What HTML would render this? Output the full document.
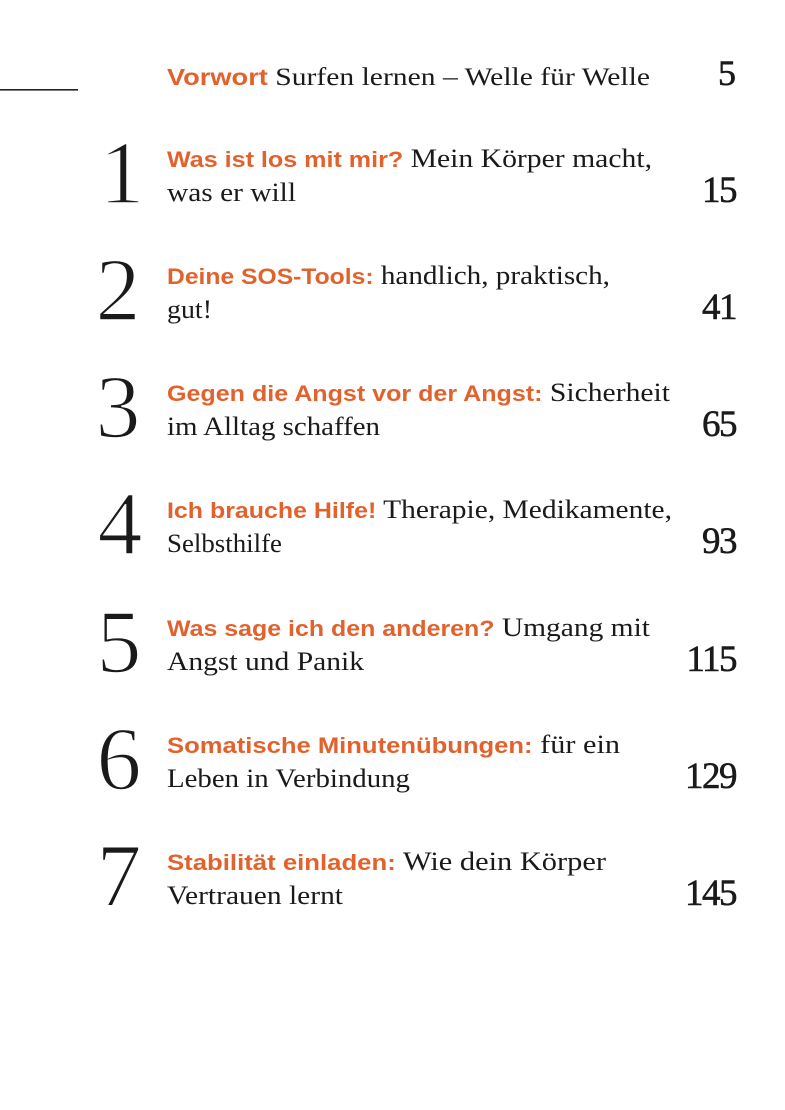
<!DOCTYPE html>
<html><head><meta charset="utf-8"><style>
html,body{margin:0;padding:0;background:#fff;width:785px;height:1110px;overflow:hidden}
svg{display:block}
.o{font-family:"Liberation Sans",sans-serif;font-weight:bold;fill:#e2622d}
.s{font-family:"Liberation Serif",serif;fill:#1a1a1a}
</style></head><body>
<svg width="785" height="1110" viewBox="0 0 785 1110" xmlns="http://www.w3.org/2000/svg">
<rect x="0" y="89" width="78" height="1.6" fill="#222"/>
<text x="167" y="85" font-size="25" textLength="483" lengthAdjust="spacingAndGlyphs"><tspan class="o" font-size="23">Vorwort</tspan><tspan class="s"> Surfen lernen – Welle für Welle</tspan></text>
<text class="s" x="736" y="85" font-size="36" text-anchor="end" stroke="#1a1a1a" stroke-width="0.6">5</text>

<g class="s" font-size="90" text-anchor="middle" stroke="#fff" stroke-width="1.6" paint-order="normal">
<text x="122" y="203">1</text>
<text x="118" y="320">2</text>
<text x="118" y="437">3</text>
<text x="120" y="554">4</text>
<text x="119" y="672">5</text>
<text x="119" y="789">6</text>
<text x="119" y="906">7</text>
</g>

<g font-size="26">
<text x="167" y="167" textLength="485" lengthAdjust="spacingAndGlyphs"><tspan class="o" font-size="22">Was ist los mit mir?</tspan><tspan class="s"> Mein Körper macht,</tspan></text>
<text class="s" x="167" y="201" textLength="129" lengthAdjust="spacingAndGlyphs">was er will</text>

<text x="167" y="284" textLength="443" lengthAdjust="spacingAndGlyphs"><tspan class="o" font-size="22">Deine SOS-Tools:</tspan><tspan class="s"> handlich, praktisch,</tspan></text>
<text class="s" x="167" y="318" textLength="45" lengthAdjust="spacingAndGlyphs">gut!</text>

<text x="167" y="401" textLength="503" lengthAdjust="spacingAndGlyphs"><tspan class="o" font-size="22">Gegen die Angst vor der Angst:</tspan><tspan class="s"> Sicherheit</tspan></text>
<text class="s" x="167" y="435" textLength="213" lengthAdjust="spacingAndGlyphs">im Alltag schaffen</text>

<text x="167" y="518" textLength="505" lengthAdjust="spacingAndGlyphs"><tspan class="o" font-size="22">Ich brauche Hilfe!</tspan><tspan class="s"> Therapie, Medikamente,</tspan></text>
<text class="s" x="167" y="552" textLength="115" lengthAdjust="spacingAndGlyphs">Selbsthilfe</text>

<text x="167" y="636" textLength="483" lengthAdjust="spacingAndGlyphs"><tspan class="o" font-size="22">Was sage ich den anderen?</tspan><tspan class="s"> Umgang mit</tspan></text>
<text class="s" x="167" y="670" textLength="197" lengthAdjust="spacingAndGlyphs">Angst und Panik</text>

<text x="167" y="753" textLength="453" lengthAdjust="spacingAndGlyphs"><tspan class="o" font-size="22">Somatische Minutenübungen:</tspan><tspan class="s"> für ein</tspan></text>
<text class="s" x="167" y="787" textLength="243" lengthAdjust="spacingAndGlyphs">Leben in Verbindung</text>

<text x="167" y="870" textLength="439" lengthAdjust="spacingAndGlyphs"><tspan class="o" font-size="22">Stabilität einladen:</tspan><tspan class="s"> Wie dein Körper</tspan></text>
<text class="s" x="167" y="904" textLength="176" lengthAdjust="spacingAndGlyphs">Vertrauen lernt</text>
</g>

<g class="s" font-size="37" text-anchor="end" letter-spacing="-1.5" stroke="#1a1a1a" stroke-width="0.6">
<text x="736" y="202">15</text>
<text x="736" y="319">41</text>
<text x="736" y="436">65</text>
<text x="736" y="553">93</text>
<text x="736" y="671">115</text>
<text x="736" y="788">129</text>
<text x="736" y="905">145</text>
</g>
</svg>
</body></html>
